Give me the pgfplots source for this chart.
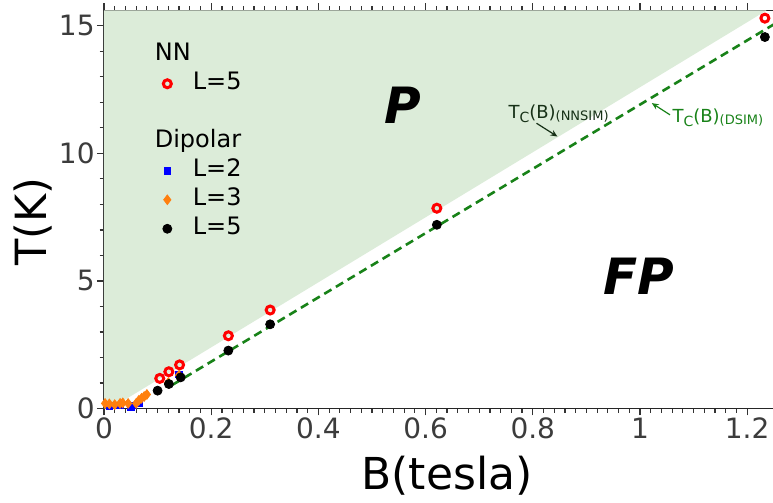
\documentclass[border=0pt]{standalone}
\usepackage{fontspec}
\setmainfont{DejaVu Sans}
\usepackage{pgfplots}
\pgfplotsset{compat=1.18}
\usetikzlibrary{arrows.meta}

\definecolor{phasegreen}{RGB}{220,236,217}
\definecolor{tcgreen}{RGB}{24,130,24}
\definecolor{nnsimtext}{RGB}{22,48,22}
\definecolor{tickgray}{RGB}{60,60,60}
\definecolor{dorange}{RGB}{255,127,14}

\begin{document}
\begin{tikzpicture}
\begin{axis}[
  scale only axis,
  width=335pt, height=199pt,
  xmin=0, xmax=1.25, ymin=0, ymax=15.6,
  axis x line=box, axis y line=left,
  y axis line style={-},
  axis line style={black!85, line width=0.8pt},
  xtick={0,0.2,0.4,0.6,0.8,1,1.2},
  ytick={0,5,10,15},
  minor x tick num=9,
  minor y tick num=4,
  tick align=outside,
  major tick length=3.5pt,
  minor tick length=2.2pt,
  tick style={black!80, line width=0.6pt},
  /pgf/number format/assume math mode=true,
  ticklabel style={font=\fontsize{14}{14}\selectfont, text=tickgray},
  xticklabel style={inner ysep=1pt},
  yticklabel style={inner xsep=1pt},
  xlabel={B(tesla)},
  ylabel={T(K)},
  xlabel style={font=\fontsize{22}{22}\selectfont, at={(axis description cs:0.512,0)}, anchor=base, yshift=-40.5pt},
  ylabel style={font=\fontsize{21.5}{22}\selectfont, at={(axis description cs:-0.106,0.47)}, anchor=center},
  clip mode=individual,
  legend style={
    at={(axis description cs:0.0595,0.935)}, anchor=north west,
    draw=none, fill=none,
    font=\fontsize{12}{14}\selectfont,
    nodes={inner sep=1.5pt, text height=8.5pt, text depth=2.5pt},
    row sep=0.5pt,
    /tikz/every odd column/.append style={column sep=9pt},
  },
  legend cell align=left,
]

% paramagnetic region above the NN transition line
\addplot[draw=none, fill=phasegreen, forget plot]
  coordinates {(0,0) (0,15.6) (1.236,15.6) (0.012,0)} -- cycle;

% dipolar transition line T_c(B)
\addplot[tcgreen, line width=1.3pt, dash pattern=on 4.2pt off 2.6pt, forget plot]
  coordinates {(0.128,0.93) (1.25,15.06)};

\addlegendimage{empty legend}
\addlegendentry{\hspace*{-19pt}NN}

% nearest-neighbour model, L=5
\addplot[only marks, mark=o, mark size=2pt, red, line width=1.5pt]
  coordinates {(0.104,1.18) (0.121,1.44) (0.141,1.71) (0.232,2.85)
               (0.310,3.86) (0.621,7.85) (1.233,15.3)};
\addlegendentry{L=5}

\addlegendimage{empty legend}
\addlegendentry{}
\addlegendimage{empty legend}
\addlegendentry{\hspace*{-19pt}Dipolar}

% dipolar model, L=2
\addplot[only marks, mark=square*, mark size=1.6pt, blue, mark options={draw=blue, fill=blue}]
  coordinates {(0.010,0.10) (0.030,0.12) (0.050,0.05) (0.055,0.12)
               (0.065,0.20) (0.140,1.33)};
\addlegendentry{L=2}

% dipolar model, L=3
\addplot[only marks, mark=diamond*, mark size=2.4pt, dorange, mark options={draw=dorange, fill=dorange}]
  coordinates {(0.002,0.20) (0.010,0.18) (0.020,0.15) (0.030,0.20)
               (0.035,0.22) (0.045,0.20) (0.060,0.20) (0.065,0.32)
               (0.070,0.40) (0.075,0.47) (0.080,0.55) (0.120,1.02)
               (0.140,1.30)};
\addlegendentry{L=3}

% dipolar model, L=5
\addplot[only marks, mark=*, mark size=2.25pt, black]
  coordinates {(0.100,0.70) (0.121,0.96) (0.143,1.22) (0.232,2.27)
               (0.310,3.30) (0.621,7.20) (1.233,14.56)};
\addlegendentry{L=5}

% phase labels
\node[font=\fontsize{25}{25}\selectfont\bfseries\itshape] at (axis cs:0.558,11.9) {P};
\node[font=\fontsize{25}{25}\selectfont\bfseries\itshape] at (axis cs:0.998,5.2) {FP};

% transition line annotations
\node[anchor=base west, inner sep=0pt, text=nnsimtext, font=\fontsize{9}{9}\selectfont]
  at (axis cs:0.754,11.38)
  {T\raisebox{-2pt}{\fontsize{7}{7}\selectfont C}(B)\raisebox{-1pt}{\fontsize{6.5}{7}\selectfont (NNSIM)}};
\draw[nnsimtext, line width=0.6pt, -{Stealth[length=3.5pt,width=3pt]}]
  (axis cs:0.807,11.18) -- (axis cs:0.846,10.66);

\node[anchor=base west, inner sep=0pt, text=tcgreen, font=\fontsize{9}{9}\selectfont]
  at (axis cs:1.06,11.2)
  {T\raisebox{-2pt}{\fontsize{7}{7}\selectfont C}(B)\raisebox{-1pt}{\fontsize{6.5}{7}\selectfont (DSIM)}};
\draw[tcgreen, line width=0.6pt, -{Stealth[length=3.5pt,width=3pt]}]
  (axis cs:1.056,11.51) -- (axis cs:1.022,11.97);

\end{axis}
\pgfresetboundingbox
\path[use as bounding box] (-52pt,-47.25pt) rectangle (334.5pt,204.25pt);
\end{tikzpicture}
\end{document}
